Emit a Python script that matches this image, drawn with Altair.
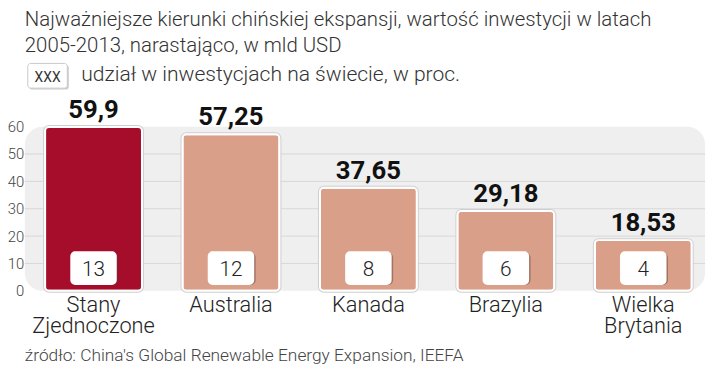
import altair as alt
import pandas as pd

# ---- data ----
kraje = ["Stany Zjednoczone", "Australia", "Kanada", "Brazylia", "Wielka Brytania"]
inwestycje = [59.9, 57.25, 37.65, 29.18, 18.53]
udzial = [13, 12, 8, 6, 4]
y_ticks = [0, 10, 20, 30, 40, 50, 60]
grid_vals = [10, 20, 30, 40, 50]

tytul_1 = "Najważniejsze kierunki chińskiej ekspansji, wartość inwestycji w latach"
tytul_2 = "2005-2013, narastająco, w mld USD"
legenda_box = "XXX"
legenda_txt = "udział w inwestycjach na świecie, w proc."
zrodlo = "źródło: China's Global Renewable Energy Expansion, IEEFA"

df = pd.DataFrame({"kraj": kraje, "wartosc": inwestycje, "udzial": udzial})

W, H = 688, 166
LIGHT = "Roboto"
BOLD = "Roboto"
DARK = "#a50d2b"
SALMON = "#d99f89"

base = alt.Chart(df)
x_enc = alt.X("kraj:N", sort=kraje, axis=None,
              scale=alt.Scale(range=[0, 695], paddingInner=0.295, paddingOuter=0.1475))
y_scale = alt.Scale(domain=[0, 60], nice=False)
y_axis = alt.Axis(values=y_ticks, grid=False, ticks=False, domain=False,
                  title=None, labelPadding=1, labelFontSize=15,
                  labelOverlap=False, labelBound=False,
                  labelColor="#444", labelFont=LIGHT, labelFontWeight=300)
y_plain = alt.Y("wartosc:Q", scale=y_scale, axis=y_axis)

grid = alt.Chart(pd.DataFrame({"g": grid_vals})).mark_rule(color="#d8d8d8", strokeWidth=1).encode(
    y=alt.Y("g:Q", scale=y_scale, axis=y_axis), x=alt.value(0), x2=alt.value(W)
)

bar_shadow = base.mark_bar(color="#cfcfcf", stroke="#cfcfcf", strokeWidth=4,
                           cornerRadius=4, opacity=0.6).encode(
    x=x_enc, y=y_plain
)

bars = base.mark_bar(stroke="white", strokeWidth=2, cornerRadius=4).encode(
    x=x_enc,
    y=y_plain,
    color=alt.condition(alt.datum.kraj == "Stany Zjednoczone", alt.value(DARK), alt.value(SALMON)),
)

val_labels = base.transform_calculate(
    lab="replace(toString(datum.wartosc), '.', ',')"
).mark_text(baseline="alphabetic", dy=-9, fontSize=26, fontWeight="bold",
            font=BOLD, color="#111").encode(
    x=x_enc, y=y_plain, text="lab:N"
)

box_shadow = base.mark_bar(width=47, color="#5a3d35", opacity=0.45, cornerRadius=5,
                           xOffset=1.5, yOffset=1.5).encode(
    x=x_enc, y=alt.value(126), y2=alt.value(160)
)
box = base.mark_bar(width=47, color="white", cornerRadius=5).encode(
    x=x_enc, y=alt.value(126), y2=alt.value(160)
)
box_txt = base.mark_text(baseline="alphabetic", fontSize=21, font=LIGHT,
                         fontWeight=300, color="#222").encode(
    x=x_enc, y=alt.value(151), text="udzial:N"
)

cat_labels = base.transform_calculate(
    lines="split(datum.kraj, ' ')"
).mark_text(baseline="alphabetic", fontSize=22, font=LIGHT, fontWeight=300,
            color="#222", lineHeight=22).encode(
    x=x_enc, y=alt.value(187), text="lines:N"
)

def txt(s, x, y, size, color="#333", align="left", weight="normal"):
    return alt.Chart(pd.DataFrame({"t": [s]})).mark_text(
        align=align, baseline="alphabetic", fontSize=size, font=LIGHT,
        color=color, fontWeight=weight
    ).encode(x=alt.value(x), y=alt.value(y), text="t:N")

leg_shadow = alt.Chart(pd.DataFrame({"t": [legenda_box]})).mark_rect(
    color="#999", opacity=0.5, cornerRadius=3).encode(
    x=alt.value(4.5), x2=alt.value(44.5), y=alt.value(-62.5), y2=alt.value(-37.5))
leg_box = alt.Chart(pd.DataFrame({"t": [legenda_box]})).mark_rect(
    color="white", stroke="#c8c8c8", strokeWidth=1, cornerRadius=3).encode(
    x=alt.value(3), x2=alt.value(43), y=alt.value(-64), y2=alt.value(-39))

chart = alt.layer(
    grid, bar_shadow, bars, val_labels, box_shadow, box, box_txt, cat_labels,
    txt(tytul_1, 0, -102, 20.6, weight=300),
    txt(tytul_2, 0, -76, 20.6, weight=300),
    leg_shadow, leg_box,
    txt(legenda_box, 23, -45, 14, color="#333", align="center"),
    txt(legenda_txt, 57, -46, 21.3, weight=300),
    txt(zrodlo, 0, 237, 17.5, color="#444", weight=300),
).properties(
    width=W, height=H,
    autosize=alt.AutoSizeParams(type="none"),
    padding={"left": 17, "top": 118, "right": 7, "bottom": 75},
).configure_view(
    fill="#efefef", stroke=None, cornerRadius=18
)

chart.save("out.html", embed_options={"renderer": "svg", "actions": False})
